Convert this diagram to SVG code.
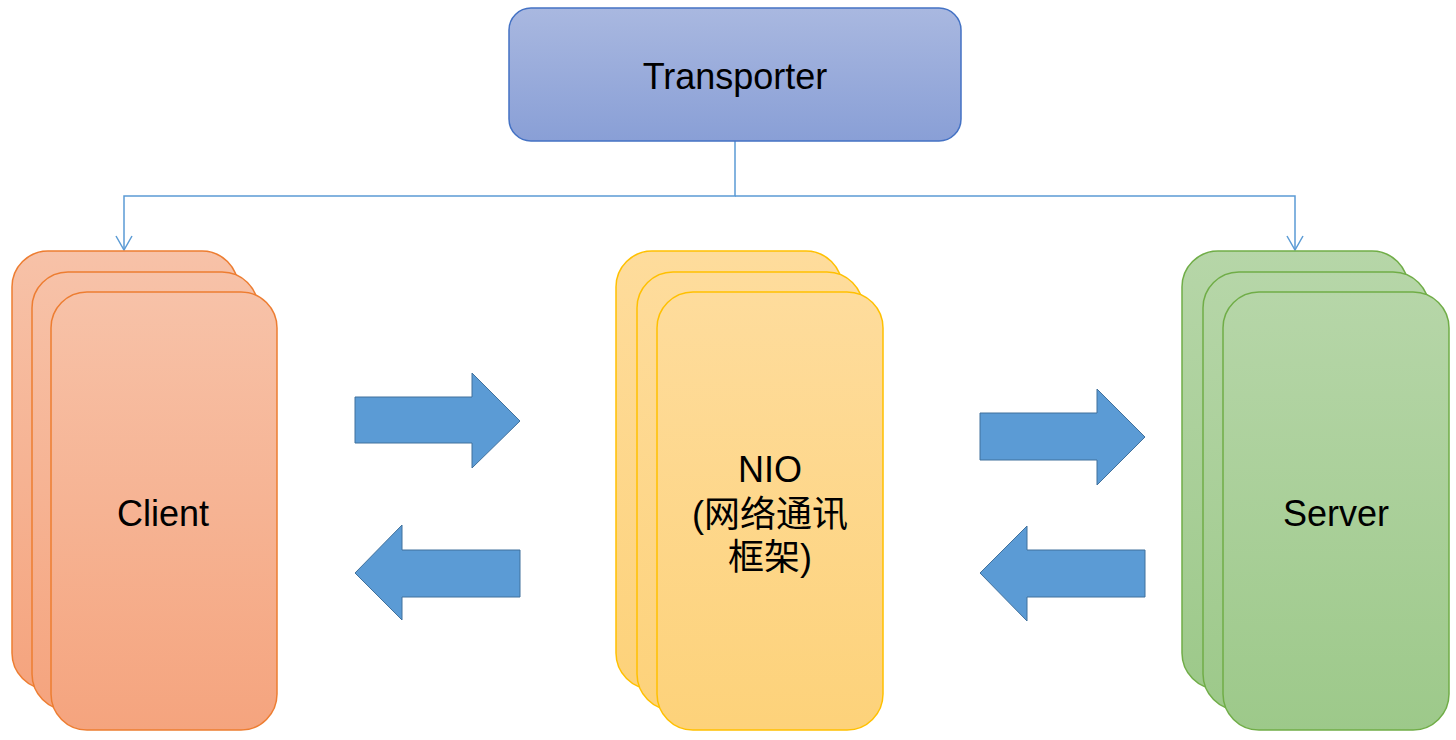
<svg xmlns="http://www.w3.org/2000/svg" width="1456" height="740" viewBox="0 0 1456 740">
<defs>
<linearGradient id="gT" x1="0" y1="0" x2="0" y2="1"><stop offset="0" stop-color="#A9B8E0"/><stop offset="1" stop-color="#899FD6"/></linearGradient>
<linearGradient id="gC" x1="0" y1="0" x2="0" y2="1"><stop offset="0" stop-color="#F7C2A8"/><stop offset="1" stop-color="#F5A47E"/></linearGradient>
<linearGradient id="gN" x1="0" y1="0" x2="0" y2="1"><stop offset="0" stop-color="#FEDC9C"/><stop offset="1" stop-color="#FDD27A"/></linearGradient>
<linearGradient id="gS" x1="0" y1="0" x2="0" y2="1"><stop offset="0" stop-color="#B6D6A8"/><stop offset="1" stop-color="#9DC98A"/></linearGradient>
<marker id="open" markerWidth="16" markerHeight="18" viewBox="0 0 16 18" refX="15" refY="9" orient="auto" markerUnits="userSpaceOnUse">
<path d="M1 1 L15 9 L1 17" fill="none" stroke="#5B9BD5" stroke-width="1.5"/>
</marker>
</defs>
<style>
text{font-family:"Liberation Sans","Noto Sans CJK SC",sans-serif;font-size:36px;fill:#000;text-anchor:middle}
.c{fill:url(#gC);stroke:#ED7D31;stroke-width:1.5}
.n{fill:url(#gN);stroke:#FFC000;stroke-width:1.5}
.s{fill:url(#gS);stroke:#70AD47;stroke-width:1.5}
.bar{fill:#5B9BD5;stroke:#41719C;stroke-width:1}
.conn{fill:none;stroke:#5B9BD5;stroke-width:1.5}
</style>
<rect width="1456" height="740" fill="#fff"/>
<g id="connectors">
<path class="conn" d="M735 141 V196 H124 V250" marker-end="url(#open)"/>
<path class="conn" d="M735 196 H1295 V250" marker-end="url(#open)"/>
</g>
<g id="transporter">
<rect x="509" y="8" width="452" height="133" rx="22" fill="url(#gT)" stroke="#4472C4" stroke-width="1.5"/>
<text x="735" y="89">Transporter</text>
</g>
<g id="client">
<rect class="c" x="12" y="251" width="226" height="438" rx="36"/>
<rect class="c" x="32" y="272" width="226" height="438" rx="36"/>
<rect class="c" x="51" y="292" width="226" height="438" rx="36"/>
<text x="163" y="526">Client</text>
</g>
<g id="nio">
<rect class="n" x="616" y="251" width="226" height="438" rx="36"/>
<rect class="n" x="637" y="272" width="226" height="438" rx="36"/>
<rect class="n" x="657" y="292" width="226" height="438" rx="36"/>
<text x="770" y="482">NIO</text>
<text x="770" y="527">(网络通讯</text>
<text x="770" y="570">框架)</text>
</g>
<g id="server">
<rect class="s" x="1182" y="251" width="226" height="438" rx="36"/>
<rect class="s" x="1203" y="272" width="226" height="438" rx="36"/>
<rect class="s" x="1223" y="292" width="226" height="438" rx="36"/>
<text x="1336" y="526">Server</text>
</g>
<g id="arrow-client-nio">
<polygon class="bar" points="355,397 472,397 472,373 520,421 472,468 472,443 355,443"/>
</g>
<g id="arrow-nio-client">
<polygon class="bar" points="520,550 402,550 402,525 355,573 402,620 402,597 520,597"/>
</g>
<g id="arrow-nio-server">
<polygon class="bar" points="980,413 1097,413 1097,389 1145,437 1097,485 1097,460 980,460"/>
</g>
<g id="arrow-server-nio">
<polygon class="bar" points="1145,550 1027,550 1027,526 980,573 1027,621 1027,597 1145,597"/>
</g>
</svg>
